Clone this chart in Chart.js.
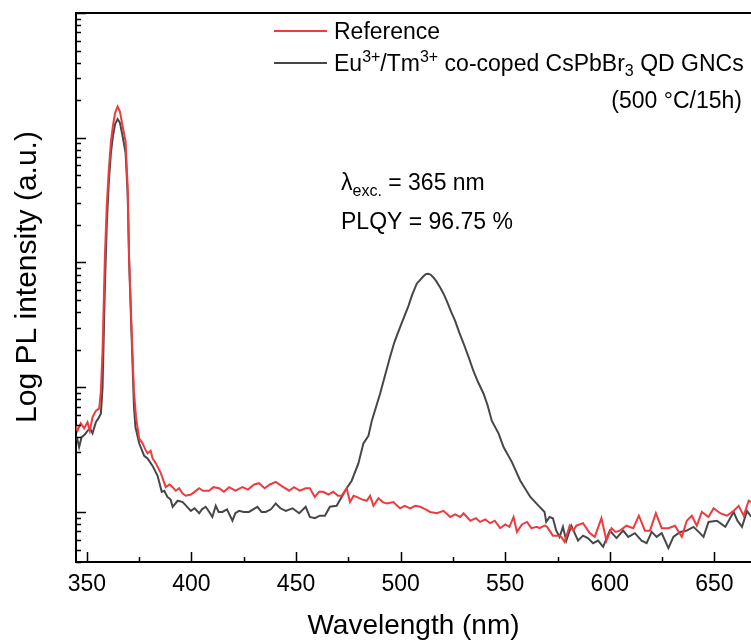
<!DOCTYPE html>
<html>
<head>
<meta charset="utf-8">
<script src="https://cdn.jsdelivr.net/npm/chart.js@4.4.1/dist/chart.umd.min.js"></script>
<style>
  html, body { margin: 0; padding: 0; background: #ffffff; }
  canvas { display: block; }
</style>
</head>
<body>
<canvas id="plChart" width="751" height="641"></canvas>
<script>
// ---- Spectra (wavelength in nm, PL intensity in a.u.) ----
const refWavelength = [344.7, 345.5, 347.1, 348.7, 350.3, 351.4, 352.7, 354.3, 355.9, 356.7, 357.5, 358.6, 359.5, 360.5, 361.5, 362.5, 363.5, 364.7, 365.8, 367, 368.5, 369.5, 370.2, 371.3, 372.5, 373.5, 375, 376.6, 378, 379, 380.5, 381.4, 383, 385.4, 387.7, 389.5, 391, 392.5, 394.1, 395.7, 397.3, 399.7, 401.5, 403.7, 405.5, 408.4, 410.5, 413.2, 415.5, 418, 421, 424.4, 427, 430, 432.3, 435, 437.5, 440.3, 443, 446.7, 449, 451.8, 454.6, 456.6, 459, 461, 463, 465.5, 467.8, 470, 471.8, 474.2, 475.8, 477.5, 479, 481.5, 483.8, 485.4, 487, 489.4, 491.5, 493.3, 496.5, 499.7, 502, 504.5, 507, 509.3, 512, 514.1, 517.3, 520.5, 523.7, 526, 528.5, 530.1, 533.3, 536, 538, 540.5, 542.8, 545, 547.6, 550, 552, 554, 555.6, 558, 560.4, 562.5, 565.2, 566.4, 568.8, 570, 572.8, 575.6, 576.8, 578.4, 580.8, 582.5, 584, 587.2, 590.4, 592.8, 596, 598.4, 600.8, 602.8, 604.8, 608, 611.2, 613.9, 616.8, 619.2, 622, 624.8, 628, 631.2, 634.4, 636.8, 639.2, 641.6, 644, 647.2, 649.6, 652.8, 656, 659.2, 661.6, 664, 666.4, 667.7];
const refIntensity = [49.0, 44.7, 51.3, 46.8, 52.5, 44.7, 57.5, 64.6, 67.6, 93.3, 200, 1096, 2818, 5623, 9333, 12589, 15849, 17783, 16218, 12589, 9333, 3981, 1096, 316, 93.3, 57.5, 38.9, 35.5, 31.6, 29.5, 30.9, 26.9, 24.5, 20.4, 15.8, 16.6, 15.8, 14.8, 15.5, 14.1, 13.5, 13.8, 14.5, 15.5, 14.8, 14.8, 15.8, 15.5, 14.5, 15.8, 14.8, 15.8, 15.1, 16.6, 17.0, 15.5, 16.6, 17.4, 16.2, 14.8, 15.8, 14.8, 15.5, 15.5, 13.2, 14.5, 14.5, 13.8, 14.5, 13.5, 13.5, 15.5, 12.0, 13.5, 13.2, 12.6, 12.3, 13.5, 11.2, 12.9, 12.0, 11.7, 12.0, 10.7, 11.2, 10.7, 11.2, 11.0, 10.5, 10.0, 9.77, 10.2, 9.12, 9.55, 9.12, 9.77, 8.51, 8.91, 8.32, 8.71, 8.13, 8.51, 7.41, 7.94, 7.59, 9.12, 6.92, 7.94, 8.32, 7.41, 7.59, 7.41, 7.76, 7.59, 6.46, 6.46, 6.31, 5.75, 7.76, 7.08, 7.76, 8.13, 6.76, 6.31, 8.91, 5.89, 7.41, 6.92, 7.08, 7.76, 7.41, 9.33, 7.08, 7.08, 9.77, 7.41, 7.41, 7.76, 6.31, 8.51, 9.33, 7.76, 10.0, 9.12, 10.7, 9.77, 9.33, 10.2, 11.2, 9.33, 12.3, 12.0];

const gncWavelength = [344.7, 345.5, 346.3, 347.5, 349, 350.3, 351.5, 352.7, 354.3, 355.5, 356.7, 357.5, 358.6, 359.5, 360.5, 361.5, 362.5, 363.5, 364.7, 365.8, 367, 368.5, 369.5, 370.2, 371.3, 372.5, 373.2, 375, 377.4, 379, 379.8, 381.4, 383.8, 385.8, 387, 388.5, 390, 391, 393.4, 395.8, 397.5, 399.7, 401.5, 403.7, 405, 406.8, 408.5, 410, 411.6, 413, 414.8, 417, 419.6, 421, 422.7, 425, 427.5, 429.5, 431.5, 433.5, 435.5, 438, 440.3, 442.5, 445.1, 448.3, 451.5, 454.6, 456.6, 459, 461.4, 463.8, 466.2, 469.4, 471.8, 474.2, 476.6, 479.8, 482.2, 484.6, 486.2, 490.2, 494.9, 497, 499.7, 503.7, 505.5, 507.7, 510.9, 512, 513.3, 514.5, 515.7, 517, 518.9, 520.5, 522.1, 524, 526.1, 528, 530.1, 532.5, 534.8, 537, 539.6, 541.5, 543.6, 546.8, 549.2, 553.2, 557.2, 562, 566, 568.8, 569.6, 571.2, 572.8, 574.4, 576, 577.6, 579.2, 581.6, 584.8, 587.2, 589.5, 592, 594.4, 596.8, 600, 603.2, 606.4, 608.8, 612, 615.2, 617.6, 620, 622.4, 624.8, 628, 630.4, 633.6, 636.8, 640, 642.5, 644.8, 647.2, 651.2, 655.2, 659.2, 661, 663.2, 665.6, 667.7];
const gncIntensity = [40.7, 38.0, 33.1, 39.8, 41.7, 44.7, 46.8, 42.7, 52.5, 56.2, 61.7, 100, 631, 1995, 4467, 7586, 10471, 12882, 14125, 13183, 10471, 7586, 3548, 1000, 282, 70.8, 47.9, 35.5, 28.2, 26.9, 25.7, 23.4, 19.5, 14.5, 14.8, 13.2, 12.6, 11.0, 12.3, 12.0, 11.2, 10.2, 10.7, 9.77, 10.5, 11.0, 10.0, 9.12, 11.2, 10.0, 10.0, 10.5, 8.51, 9.77, 10.2, 10.0, 10.0, 10.5, 11.0, 10.0, 10.0, 10.5, 11.7, 10.7, 10.2, 10.7, 9.77, 11.0, 9.12, 8.91, 9.33, 9.33, 11.0, 11.2, 13.2, 15.5, 17.8, 24.5, 35.5, 40.7, 53.7, 89.1, 174, 229, 302, 447, 550, 676, 776, 804, 813, 794, 759, 708, 631, 562, 490, 407, 339, 275, 224, 174, 135, 110, 89.1, 72.4, 53.7, 42.7, 33.1, 25.1, 17.8, 13.2, 11.2, 10.0, 8.32, 9.12, 8.91, 7.08, 6.31, 7.59, 5.89, 7.76, 5.89, 6.46, 6.17, 5.62, 5.89, 5.25, 7.08, 6.17, 7.08, 6.31, 6.76, 5.89, 5.62, 6.92, 6.31, 6.76, 5.13, 6.31, 6.92, 7.08, 7.59, 6.92, 6.31, 8.32, 8.51, 7.59, 10.0, 8.51, 7.59, 10.2, 9.12];

// ---- Axis tick positions ----
const xMajorTicks = [350, 400, 450, 500, 550, 600, 650];
const xMinorTicks = [375, 425, 475, 525, 575, 625];
const yDecades = [10, 100, 1000, 10000, 100000];
const yMantissas = [2, 3, 4, 5, 6, 7, 8, 9];

const seriesNames = ['Reference', 'Eu3+/Tm3+ co-coped CsPbBr3 QD GNCs'];
const seriesColors = ['#ee3b3f', '#474747'];

const FONT = '"Liberation Sans", Arial, Helvetica, sans-serif';

function toPoints(xs, ys) {
  return xs.map((x, i) => ({ x: x, y: ys[i] }));
}

// Draws a run of text pieces with their own size and baseline shift
function drawRich(ctx, x, y, pieces, align) {
  ctx.textBaseline = 'alphabetic';
  ctx.textAlign = 'left';
  let total = 0;
  pieces.forEach(p => {
    ctx.font = p.size + 'px ' + FONT;
    p.w = ctx.measureText(p.text).width;
    total += p.w;
  });
  let cx = align === 'right' ? x - total : x;
  pieces.forEach(p => {
    ctx.font = p.size + 'px ' + FONT;
    ctx.fillText(p.text, cx, y + (p.shift || 0));
    cx += p.w;
  });
}

const frameAndText = {
  id: 'frameAndText',
  afterDraw(chart) {
    const { ctx, chartArea: a, scales } = chart;
    const xs = scales.x, ys = scales.y;
    ctx.save();
    ctx.strokeStyle = '#000';
    ctx.fillStyle = '#000';

    // top frame line
    ctx.lineWidth = 2;
    ctx.beginPath();
    ctx.moveTo(a.left - 1, a.top);
    ctx.lineTo(a.right, a.top);
    ctx.stroke();

    // inward tick marks
    ctx.lineWidth = 1.5;
    ctx.beginPath();
    xMajorTicks.forEach(v => {
      const px = Math.round(xs.getPixelForValue(v)) + 0.5;
      ctx.moveTo(px, a.bottom); ctx.lineTo(px, a.bottom - 10);
    });
    xMinorTicks.forEach(v => {
      const px = Math.round(xs.getPixelForValue(v)) + 0.5;
      ctx.moveTo(px, a.bottom); ctx.lineTo(px, a.bottom - 5);
    });
    yDecades.forEach(d => {
      const py = Math.round(ys.getPixelForValue(d)) + 0.5;
      if (py >= a.top - 1 && py <= a.bottom + 1) {
        ctx.moveTo(a.left, py); ctx.lineTo(a.left + 10, py);
      }
      yMantissas.forEach(m => {
        const v = m * d / 10;
        if (v < ys.min || v > ys.max) return;
        const pm = Math.round(ys.getPixelForValue(v)) + 0.5;
        ctx.moveTo(a.left, pm); ctx.lineTo(a.left + 5, pm);
      });
    });
    ctx.stroke();

    // axis titles
    ctx.textAlign = 'center';
    ctx.textBaseline = 'middle';
    ctx.font = '28px ' + FONT;
    ctx.fillText('Wavelength (nm)', (a.left + a.right) / 2, 626);
    ctx.save();
    ctx.translate(28, 277);
    ctx.rotate(-Math.PI / 2);
    ctx.font = '30px ' + FONT;
    ctx.fillText('Log PL intensity (a.u.)', 0, 0);
    ctx.restore();

    // legend
    const ds = chart.data.datasets;
    const legendRows = [31, 63];
    ctx.lineWidth = 2;
    ds.forEach((d, i) => {
      ctx.strokeStyle = d.borderColor;
      ctx.beginPath();
      ctx.moveTo(274, legendRows[i]);
      ctx.lineTo(327, legendRows[i]);
      ctx.stroke();
    });
    ctx.fillStyle = '#000';
    drawRich(ctx, 334, legendRows[0] + 8, [{ text: 'Reference', size: 23 }]);
    drawRich(ctx, 334, legendRows[1] + 8, [
      { text: 'Eu', size: 23 },
      { text: '3+', size: 16, shift: -9 },
      { text: '/Tm', size: 23 },
      { text: '3+', size: 16, shift: -9 },
      { text: ' co-coped CsPbBr', size: 23 },
      { text: '3', size: 16, shift: 5 },
      { text: ' QD GNCs', size: 23 }
    ]);
    drawRich(ctx, 742, 108, [{ text: '(500 \u00B0C/15h)', size: 23 }], 'right');

    // excitation / quantum yield notes
    drawRich(ctx, 341, 190, [
      { text: '\u03BB', size: 23 },
      { text: 'exc.', size: 16, shift: 6 },
      { text: ' = 365 nm', size: 23 }
    ]);
    drawRich(ctx, 341, 229, [{ text: 'PLQY = 96.75 %', size: 23 }]);
    ctx.restore();
  }
};

new Chart(document.getElementById('plChart'), {
  type: 'line',
  data: {
    datasets: [
      {
        label: seriesNames[0],
        data: toPoints(refWavelength, refIntensity),
        borderColor: seriesColors[0],
        borderWidth: 2,
        pointRadius: 0,
        tension: 0,
        fill: false
      },
      {
        label: seriesNames[1],
        data: toPoints(gncWavelength, gncIntensity),
        borderColor: seriesColors[1],
        borderWidth: 2,
        pointRadius: 0,
        tension: 0,
        fill: false
      }
    ]
  },
  options: {
    responsive: false,
    devicePixelRatio: 1,
    animation: false,
    layout: { padding: { top: 13, right: 0, bottom: 0, left: 0 } },
    plugins: { legend: { display: false }, tooltip: { enabled: false } },
    scales: {
      x: {
        type: 'linear',
        position: 'bottom',
        min: 344.8,
        max: 667.5,
        afterBuildTicks: s => { s.ticks = xMajorTicks.map(v => ({ value: v })); },
        afterFit: s => { s.height = 79; },
        ticks: {
          font: { family: FONT, size: 23 },
          color: '#000',
          padding: 9,
          maxRotation: 0,
          autoSkip: false
        },
        grid: { display: false, drawTicks: false },
        border: { color: '#000', width: 2 }
      },
      y: {
        type: 'logarithmic',
        min: 3.97,
        max: 100000,
        afterFit: s => { s.width = 76; },
        ticks: { display: false },
        grid: { display: false, drawTicks: false },
        border: { color: '#000', width: 2 }
      }
    }
  },
  plugins: [frameAndText]
});
</script>
</body>
</html>
